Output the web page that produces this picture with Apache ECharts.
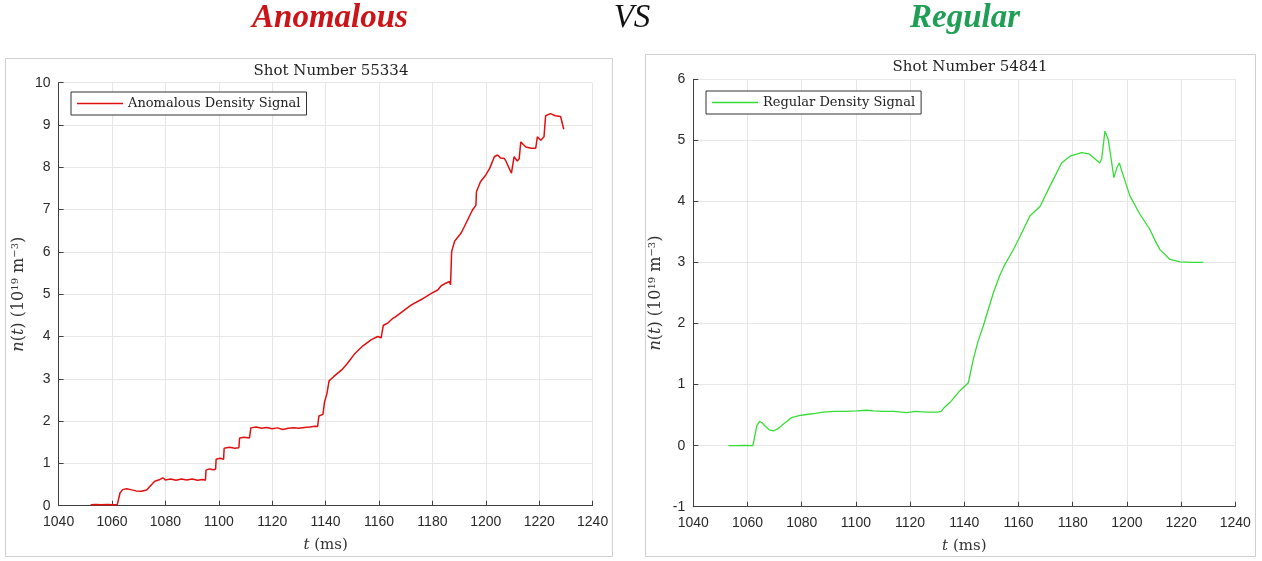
<!DOCTYPE html>
<html>
<head>
<meta charset="utf-8">
<script src="https://cdn.jsdelivr.net/npm/echarts@6/dist/echarts.min.js"></script>
<style>
html,body{margin:0;padding:0;background:#fff;}
#c{width:1262px;height:561px;}
</style>
</head>
<body>
<div id="c"></div>
<script>
// ---------- data ----------
const xTicks = [1040, 1240, 20];           // min, max, interval (ms)
const anomTitle = 'Shot Number 55334';
const regTitle = 'Shot Number 54841';
const anomName = 'Anomalous Density Signal';
const regName = 'Regular Density Signal';

const anomTime = [1052,1054,1056,1058,1061,1062,1063,1064,1065.5,1067,1069,1071,1073,1074.5,1076,1078,1079,1080,1082,1084,1086,1088,1090,1092,1094,1095,1095.2,1096.5,1098,1098.8,1099,1100.5,1101.8,1102,1104,1106,1107.5,1107.8,1109.5,1111.5,1112,1114,1116,1118,1120,1122,1124,1126,1128,1130,1132,1134,1136,1137,1137.5,1139,1139.6,1140.5,1141.3,1143,1146,1148,1151,1154,1157,1159.5,1160.8,1161.6,1163.5,1165,1166,1169,1172,1176,1179.6,1182,1183.3,1185,1186.4,1186.8,1187.2,1188.3,1190.7,1192,1195,1196.3,1196.5,1198,1200,1201.5,1203.2,1204.4,1205.5,1206.9,1207.5,1209.6,1210.6,1211.8,1212.5,1213.1,1215,1217,1218.7,1219.3,1220.6,1221.8,1222.4,1224.2,1226,1228,1229.2];
const anomValue = [0.02,0.03,0.02,0.03,0.02,0.03,0.3,0.38,0.40,0.38,0.35,0.34,0.37,0.48,0.58,0.62,0.66,0.61,0.63,0.60,0.63,0.61,0.63,0.60,0.62,0.60,0.84,0.87,0.85,0.86,1.10,1.12,1.10,1.36,1.38,1.36,1.37,1.60,1.62,1.60,1.84,1.86,1.83,1.85,1.82,1.84,1.80,1.83,1.84,1.83,1.85,1.86,1.88,1.87,2.12,2.16,2.45,2.65,2.95,3.05,3.21,3.35,3.60,3.78,3.92,4.00,3.97,4.26,4.33,4.42,4.46,4.60,4.74,4.88,5.02,5.10,5.20,5.26,5.30,5.22,6.00,6.25,6.44,6.60,6.99,7.10,7.42,7.66,7.82,7.98,8.25,8.29,8.22,8.21,8.15,7.86,8.25,8.15,8.20,8.60,8.48,8.45,8.45,8.72,8.64,8.72,9.22,9.27,9.22,9.20,8.90];

const regTime = [1053,1056,1059,1062,1063.4,1064.4,1065.5,1066.5,1068,1069.5,1071,1073.2,1076.3,1079,1081.8,1085,1088,1092,1096,1100.3,1104,1106.5,1110,1114,1118.7,1122,1126,1130,1131.5,1132.5,1135,1138.4,1141.5,1143.3,1145,1147,1150.7,1153,1155,1158,1160.6,1164.2,1168,1171.6,1175.9,1179,1183.3,1186,1187.6,1190,1190.7,1191.9,1193.1,1194.4,1195.2,1196.3,1197.2,1198.1,1201.1,1204.8,1208.5,1210.5,1212.2,1215.9,1219.6,1224,1228.2];
const regValue = [0,0,0.005,0,0.32,0.40,0.37,0.32,0.26,0.24,0.27,0.35,0.46,0.49,0.51,0.53,0.55,0.56,0.56,0.57,0.58,0.57,0.56,0.56,0.54,0.56,0.55,0.55,0.56,0.62,0.72,0.90,1.03,1.41,1.70,1.96,2.50,2.78,2.97,3.20,3.43,3.76,3.92,4.25,4.63,4.74,4.80,4.78,4.72,4.63,4.70,5.15,5.02,4.63,4.39,4.55,4.63,4.50,4.09,3.79,3.54,3.35,3.21,3.05,3.01,3.00,3.00];

const anomY = [0, 10, 1];
const regY = [-1, 6, 1];

// ---------- chart ----------
const zip = (a, b) => a.map((t, i) => [t, b[i]]);
const serif = 'DejaVu Serif';
const sans = 'Liberation Sans';
const axisCol = '#404040';
const gridCol = '#e6e6e6';

function xAxis(idx) {
  return {
    gridIndex: idx, type: 'value', min: xTicks[0], max: xTicks[1], interval: xTicks[2],
    name: '{i|t} (ms)', nameLocation: 'middle', nameGap: 32,
    nameTextStyle: { fontFamily: serif, fontSize: 15, color: '#333',
      rich: { i: { fontFamily: serif, fontStyle: 'italic', fontSize: 15, color: '#333' } } },
    axisLine: { onZero: false, lineStyle: { color: axisCol, width: 1 } },
    axisTick: { inside: true, length: 5, lineStyle: { color: axisCol } },
    axisLabel: { fontFamily: sans, fontSize: 14, color: '#2a2a2a', margin: 9, formatter: v => String(v) },
    splitLine: { show: true, lineStyle: { color: gridCol } }
  };
}
function yAxis(idx, r, gap) {
  return {
    gridIndex: idx, type: 'value', min: r[0], max: r[1], interval: r[2],
    name: '{i|n}({i|t}) (10{s|19} m{s|\u22123})', nameLocation: 'middle', nameGap: gap, nameRotate: 90,
    nameTextStyle: { fontFamily: serif, fontSize: 16, color: '#333',
      rich: {
        i: { fontFamily: serif, fontStyle: 'italic', fontSize: 16, color: '#333' },
        s: { fontFamily: serif, fontSize: 10, color: '#333', verticalAlign: 'top', padding: [0, 0, 7, 0] }
      } },
    axisLine: { show: true, onZero: false, lineStyle: { color: axisCol, width: 1 } },
    axisTick: { show: true, inside: true, length: 5, lineStyle: { color: axisCol } },
    axisLabel: { fontFamily: sans, fontSize: 14, color: '#2a2a2a', margin: 8, formatter: v => String(v) },
    splitLine: { show: true, lineStyle: { color: gridCol } }
  };
}
function legend(name, left, top) {
  return { data: [name], left: left, top: top, orient: 'vertical', icon: 'rect', itemWidth: 46, itemHeight: 1.5,
    padding: [5, 6, 5, 6], borderColor: '#333', borderWidth: 1, backgroundColor: '#fff',
    textStyle: { fontFamily: serif, fontSize: 13, color: '#222' } };
}

const chart = echarts.init(document.getElementById('c'), null, { renderer: 'canvas' });
chart.setOption({
  animation: false,
  backgroundColor: '#fff',
  title: [
    { text: anomTitle, left: 326, top: 59, textAlign: 'center',
      textStyle: { fontFamily: serif, fontSize: 15, fontWeight: 'normal', color: '#222' } },
    { text: regTitle, left: 965, top: 55, textAlign: 'center',
      textStyle: { fontFamily: serif, fontSize: 15, fontWeight: 'normal', color: '#222' } }
  ],
  legend: [legend(anomName, 71, 92), legend(regName, 706, 91)],
  grid: [
    { left: 58.6, top: 82.7, width: 534, height: 423 },
    { left: 693.3, top: 79.3, width: 542, height: 427.4 }
  ],
  xAxis: [xAxis(0), xAxis(1)],
  yAxis: [yAxis(0, anomY, 31), yAxis(1, regY, 29)],
  series: [
    { name: anomName, type: 'line', xAxisIndex: 0, yAxisIndex: 0, data: zip(anomTime, anomValue), z: 5,
      symbol: 'none', lineStyle: { color: '#e01010', width: 1.5 }, itemStyle: { color: '#e01010' } },
    { name: regName, type: 'line', xAxisIndex: 1, yAxisIndex: 1, data: zip(regTime, regValue), z: 5,
      symbol: 'none', lineStyle: { color: '#36dc36', width: 1.3 }, itemStyle: { color: '#36dc36' } }
  ],
  graphic: [
    { type: 'rect', shape: { x: 5.5, y: 58.5, width: 607, height: 498 }, style: { fill: 'none', stroke: '#cfcfcf', lineWidth: 1 }, z: -1 },
    { type: 'rect', shape: { x: 645.5, y: 54.5, width: 610, height: 502 }, style: { fill: 'none', stroke: '#cfcfcf', lineWidth: 1 }, z: -1 },
    { type: 'text', style: { text: 'Anomalous', x: 330, y: 18, align: 'center', verticalAlign: 'middle',
      font: 'italic bold 33px "Liberation Serif"', fill: '#cc1418' } },
    { type: 'text', style: { text: 'VS', x: 632, y: 18, align: 'center', verticalAlign: 'middle',
      font: 'italic 33px "Liberation Serif"', fill: '#111' } },
    { type: 'text', style: { text: 'Regular', x: 965, y: 18, align: 'center', verticalAlign: 'middle',
      font: 'italic bold 33px "Liberation Serif"', fill: '#1f9e55' } }
  ]
});
</script>
</body>
</html>
